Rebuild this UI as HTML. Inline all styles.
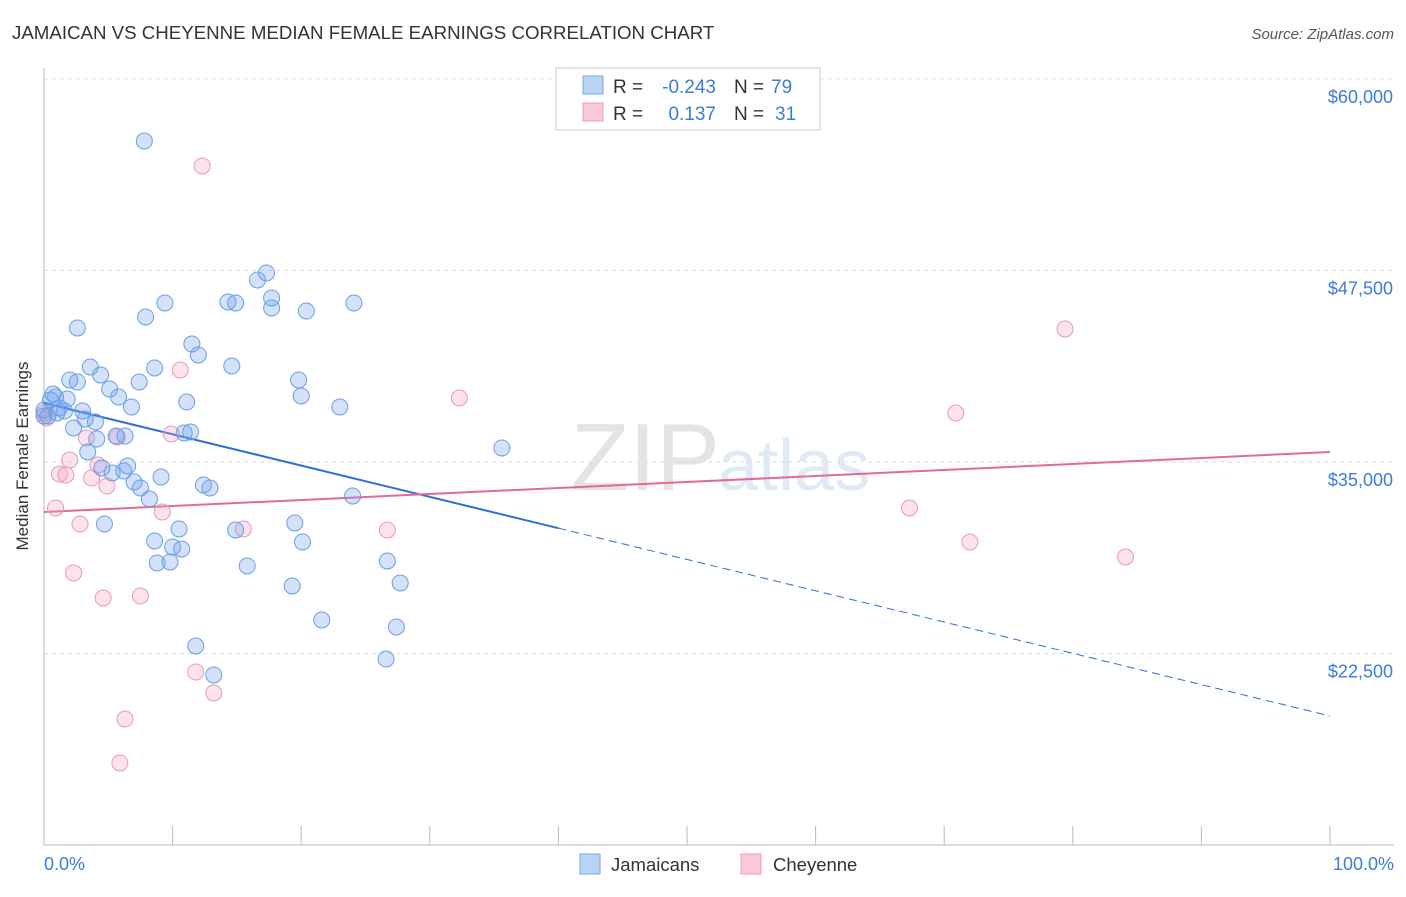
<!DOCTYPE html>
<html><head><meta charset="utf-8"><style>
body{margin:0;background:#fff;font-family:"Liberation Sans",sans-serif;}
svg text{font-family:"Liberation Sans",sans-serif;}
</style></head><body>
<svg id="chart" width="1406" height="892" xmlns="http://www.w3.org/2000/svg">
<text x="12" y="39" font-size="18.7" fill="#333">JAMAICAN VS CHEYENNE MEDIAN FEMALE EARNINGS CORRELATION CHART</text>
<text x="1394" y="39" font-size="15" fill="#555" font-style="italic" text-anchor="end">Source: ZipAtlas.com</text>
<text x="720" y="490" font-size="96" fill="#e4e4e4" text-anchor="end" font-family="Liberation Serif">ZIP</text>
<text x="718" y="490" font-size="72" fill="#e0eaf6">atlas</text>
<g id="grid"></g><g id="axes"></g><g id="lines"></g><g id="points"></g>
<text x="28" y="456" font-size="17" fill="#333" text-anchor="middle" transform="rotate(-90 28 456)">Median Female Earnings</text>
<text x="44" y="870" font-size="18" fill="#3b7dd8">0.0%</text>
<text x="1394" y="870" font-size="18" fill="#3b7dd8" text-anchor="end">100.0%</text>
<g font-size="19">
<rect x="556" y="68" width="264" height="62" fill="#fff" stroke="#ccc"/>
<rect x="583" y="76" width="20" height="18" fill="#b8d3f5" stroke="#7aa8e8"/>
<rect x="583" y="103" width="20" height="18" fill="#f9c9d8" stroke="#eba0ba"/>
<text x="613" y="93" fill="#333">R =</text>
<text x="716" y="93" fill="#3b7dd8" text-anchor="end">-0.243</text>
<text x="734" y="93" fill="#333">N =</text>
<text x="771" y="93" fill="#3b7dd8">79</text>
<text x="613" y="120" fill="#333">R =</text>
<text x="716" y="120" fill="#3b7dd8" text-anchor="end">0.137</text>
<text x="734" y="120" fill="#333">N =</text>
<text x="775" y="120" fill="#3b7dd8">31</text>
</g>
<g>
<rect x="580" y="854" width="20" height="20" fill="#b8d3f5" stroke="#7aa8e8"/>
<text x="611" y="871" font-size="18.5" fill="#333">Jamaicans</text>
<rect x="741" y="854" width="20" height="20" fill="#f9c9d8" stroke="#eba0ba"/>
<text x="773" y="871" font-size="18.5" fill="#333">Cheyenne</text>
</g>
</svg>
<script>
const yTicks=[60000,47500,35000,22500];
const yTickLabels=["$60,000","$47,500","$35,000","$22,500"];
const xTicks=[0,10,20,30,40,50,60,70,80,90,100];
const blueX=[7.8,17.3,16.6,9.4,14.3,14.9,17.7,17.7,20.4,24.1,7.9,2.6,11.5,12.0,14.6,3.6,8.6,4.4,2.0,2.6,7.4,19.8,5.1,5.8,20.0,11.1,1.8,0.7,0.5,1.2,1.0,0.3,3.0,6.8,23.0,4.0,3.2,2.3,10.9,11.4,5.6,6.3,4.1,3.4,35.6,5.3,4.5,6.5,6.2,9.1,7.0,7.5,12.4,12.9,8.2,24.0,4.7,10.5,14.9,19.5,8.6,20.1,10.0,10.7,8.8,9.8,15.8,26.7,19.3,27.7,21.6,27.4,11.8,26.6,13.2,0,0,0.9,1.6];
const blueY=[55953,47338,46881,45380,45445,45380,45706,45053,44857,45380,44466,43748,42703,41985,41267,41202,41137,40680,40354,40223,40223,40354,39766,39244,39309,38917,39114,39440,39048,38526,38200,38004,38330,38591,38591,37612,37808,37221,36894,36960,36699,36699,36503,35655,35916,34284,34611,34742,34415,34023,33697,33305,33501,33305,32587,32783,30956,30629,30564,31021,29846,29781,29454,29324,28410,28475,28214,28541,26909,27105,24690,24233,22993,22144,21100,38395,38004,39244,38330];
const pinkX=[12.3,79.4,10.6,32.3,70.9,9.9,3.3,5.7,2.0,4.2,1.2,1.7,3.7,4.9,0.9,67.3,9.2,2.8,15.5,26.7,72.0,84.1,2.3,4.6,7.5,11.8,13.2,6.3,5.9,0,0.2];
const pinkY=[54322,43683,41007,39179,38200,36829,36568,36634,35133,34807,34219,34154,33958,33436,32000,32000,31739,30956,30629,30564,29781,28802,27758,26126,26256,21295,19925,18228,15356,38200,37873];
const blueLine=[38853,18424];
const blueSolidEnd=40;
const pinkLine=[31737,35654];
const NS="http://www.w3.org/2000/svg";
const X0=44,X1=1330,Y0=79,YMAX=60000,PXPER=191.5/12500;
const xs=v=>X0+(X1-X0)*v/100;
const ys=v=>Y0+(YMAX-v)*PXPER;
function mk(t,a,p){const e=document.createElementNS(NS,t);for(const k in a)e.setAttribute(k,a[k]);p.appendChild(e);return e;}
const grid=document.getElementById('grid'),axes=document.getElementById('axes'),lines=document.getElementById('lines'),pts=document.getElementById('points');
yTicks.forEach((v,i)=>{
 const l=mk('line',{x1:X0,x2:1394,y1:ys(v),y2:ys(v),stroke:'#ddd','stroke-dasharray':'4,4'},grid);
 
 
 const t=mk('text',{x:1393,y:ys(v)+24,'font-size':18,fill:'#3b7dd8','text-anchor':'end'},axes);
 t.textContent=yTickLabels[i];
 
 
});
const tg=mk('line',{x1:X0,x2:1394,y1:Y0,y2:Y0,stroke:'#ddd','stroke-dasharray':'4,4'},grid);


const ya=mk('line',{x1:X0,x2:X0,y1:68,y2:845,stroke:'#bbb'},axes);


const xa=mk('line',{x1:X0,x2:1394,y1:845,y2:845,stroke:'#bbb'},axes);


xTicks.forEach(v=>{
 const l=mk('line',{x1:xs(v),x2:xs(v),y1:826,y2:845,stroke:'#bbb'},axes);
 
 
});
function dot(x,y,fill,stroke,name){
 const c=mk('circle',{cx:xs(x),cy:ys(y),r:8,fill:fill,stroke:stroke,'stroke-width':1},pts);
 
 
}
pinkX.forEach((x,i)=>dot(x,pinkY[i],'rgba(244,160,190,0.3)','#e99ab6','cheyenne-point'));
blueX.forEach((x,i)=>dot(x,blueY[i],'rgba(110,160,235,0.3)','#6a9ee8','jamaican-point'));
const bAt=p=>blueLine[0]+(blueLine[1]-blueLine[0])*p/100;
const bl=mk('line',{x1:xs(0),y1:ys(bAt(0)),x2:xs(blueSolidEnd),y2:ys(bAt(blueSolidEnd)),stroke:'#2e6fd6','stroke-width':2},lines);


const bd=mk('line',{x1:xs(blueSolidEnd),y1:ys(bAt(blueSolidEnd)),x2:xs(100),y2:ys(bAt(100)),stroke:'#2e6fd6','stroke-width':1,'stroke-dasharray':'8,5'},lines);


const pl=mk('line',{x1:xs(0),y1:ys(pinkLine[0]),x2:xs(100),y2:ys(pinkLine[1]),stroke:'#e46a96','stroke-width':2},lines);


</script>
</body></html>
